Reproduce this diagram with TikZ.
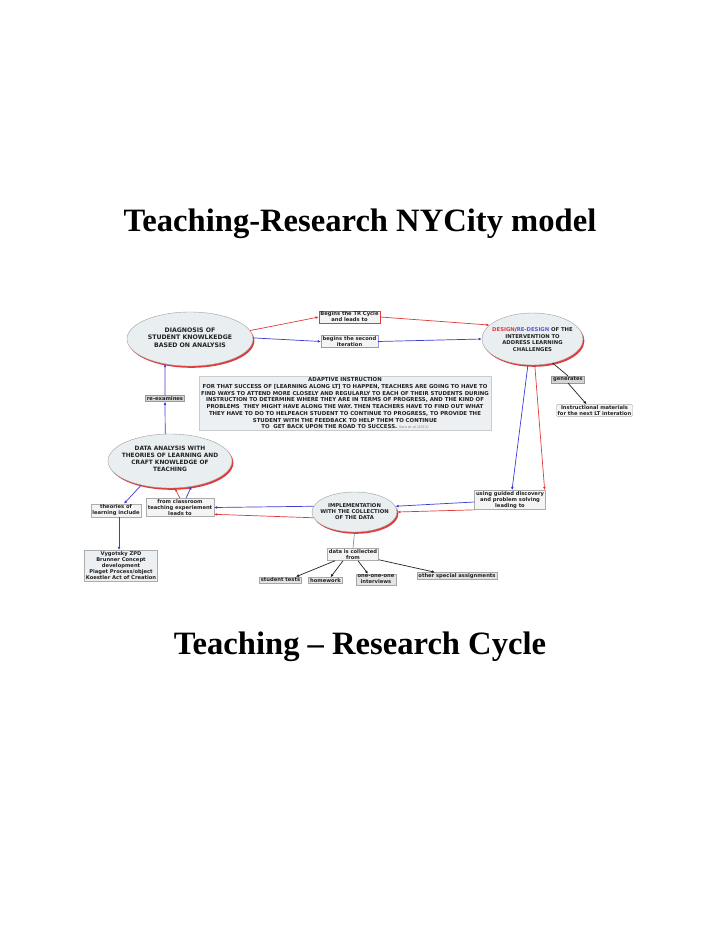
\documentclass[tikz,border=0pt]{standalone}
\usepackage{fontspec}
\setmainfont{Liberation Serif}
\setsansfont{DejaVu Sans}
\usetikzlibrary{shapes.geometric,shadows,arrows.meta,calc}
\definecolor{rl}{HTML}{E23A3A}
\definecolor{bl}{HTML}{3C3CD2}
\definecolor{cfill}{HTML}{E9EEF1}
\definecolor{bfill}{HTML}{F4F4F4}
\definecolor{gfill}{HTML}{D6D6D6}
\definecolor{lfill}{HTML}{E4E4E4}
\definecolor{afill}{HTML}{EDF0F3}
\definecolor{ink}{HTML}{222222}
\begin{document}
\begin{tikzpicture}[x=1pt,y=-1pt,
  txt/.style={font=\sffamily\bfseries\fontsize{5.2}{6.1}\selectfont, align=center, inner sep=0pt, text=ink},
  ctxt/.style={txt, font=\sffamily\bfseries\fontsize{5.3}{6.4}\selectfont},
  cshape/.style={ellipse, draw=gray!75, fill=cfill, line width=0.4pt, inner sep=0pt,
     drop shadow={fill=rl, opacity=1, shadow xshift=1.4pt, shadow yshift=-1.8pt}},
  box/.style={txt, draw=gray!65, fill=bfill, inner xsep=1.5pt, inner ysep=1pt, line width=0.4pt},
  gbox/.style={box, fill=gfill, draw=gray!80},
  lbox/.style={box, fill=lfill, draw=gray!70},
  arr/.style={-{Latex[length=3.2pt,width=2.8pt]}, line width=0.7pt, draw=ink},
  rarr/.style={arr, draw=rl},
  barr/.style={arr, draw=bl},
  ttl/.style={font=\bfseries\fontsize{32.6}{38}\selectfont, anchor=base, inner sep=0pt}
]
\fill[white] (0,0) rectangle (720,932);
\useasboundingbox (0,0) rectangle (720,932);

% titles
\node[ttl] (t1) at (360,231) {Teaching-Research NYCity model};
\node[ttl] (t2) at (360,654) {Teaching – Research Cycle};

% concepts (ellipses)
\node[cshape, minimum width=126pt, minimum height=54pt] (diag) at (190,339) {};
\node[ctxt, font=\sffamily\bfseries\fontsize{6.2}{7.4}\selectfont] (diagt) at (190,337.5) {DIAGNOSIS OF\\STUDENT KNOWLKEDGE\\BASED ON ANALYSIS};

\node[cshape, minimum width=101pt, minimum height=52pt] (design) at (532.5,339) {};
\node[ctxt] (designt) at (532.5,339.5) {\textcolor{rl}{DESIGN}/\textcolor{bl!85}{RE-DESIGN} OF THE\\INTERVENTION TO\\ADDRESS LEARNING\\CHALLENGES};

\node[cshape, minimum width=124pt, minimum height=54pt] (data) at (170,461) {};
\node[ctxt, font=\sffamily\bfseries\fontsize{5.9}{7}\selectfont] (datat) at (170,459) {DATA ANALYSIS WITH\\THEORIES OF LEARNING AND\\CRAFT KNOWLEDGE OF\\TEACHING};

\node[cshape, minimum width=85pt, minimum height=40pt] (impl) at (354.5,512) {};
\node[ctxt] (implt) at (354.5,511.5) {IMPLEMENTATION\\WITH THE COLLECTION\\OF THE DATA};

% linking phrases and boxes
\node[box, draw=rl] (tr1) at (349.5,317) {Begins the TR Cycle\\and leads to};
\node[box, draw=bl!55] (tr2) at (349.5,341.5) {begins the second\\iteration};
\node[gbox] (gen) at (568,379.5) {generates};
\node[box, rounded corners=1.5pt] (instr) at (594.5,410.5) {Instructional materials\\for the next LT interation};
\node[box, fill=afill, draw=gray!40, inner xsep=2pt, inner ysep=1.5pt,
      font=\sffamily\bfseries\fontsize{5.4}{6.7}\selectfont] (adapt) at (345,403.5)
  {ADAPTIVE INSTRUCTION\\
   FOR THAT SUCCESS OF [LEARNING ALONG LT] TO HAPPEN, TEACHERS ARE GOING TO HAVE TO\\
   FIND WAYS TO ATTEND MORE CLOSELY AND REGULARLY TO EACH OF THEIR STUDENTS DURING\\
   INSTRUCTION TO DETERMINE WHERE THEY ARE IN TERMS OF PROGRESS, AND THE KIND OF\\
   PROBLEMS\ \ THEY MIGHT HAVE ALONG THE WAY. THEN TEACHERS HAVE TO FIND OUT WHAT\\
   THEY HAVE TO DO TO HELPEACH STUDENT TO CONTINUE TO PROGRESS, TO PROVIDE THE\\
   STUDENT WITH THE FEEDBACK TO HELP THEM TO CONTINUE\\
   TO\ \ GET BACK UPON THE ROAD TO SUCCESS. {\mdseries\color{gray}\fontsize{3.5}{4}\selectfont Sara et al (2011)}};
\node[gbox] (reex) at (165,398.5) {re-examines};
\node[box] (theo) at (116,510.5) {theories of\\learning include};
\node[box] (fromc) at (180,507.5) {from classroom\\teaching experiement\\leads to};
\node[box] (guided) at (510,500) {using guided discovery\\and problem solving\\leading to};
\node[box, fill=afill] (vyg) at (121,565.5) {Vygotsky ZPD\\Brunner Concept\\development\\Piaget Process/object\\Koestler Act of Creation};
\node[box] (coll) at (353,554.5) {data is collected\\from};
\node[lbox] (st) at (280.5,580) {student tests};
\node[lbox] (hw) at (325.5,580.5) {homework};
\node[lbox] (oi) at (376,579.5) {one-one-one\\interviews};
\node[lbox] (osa) at (457,576) {other special assignments};

\coordinate (tv) at ($(theo.south)+(3,0)$);
\coordinate (vt) at (tv |- vyg.north);

% connectors
\draw[rarr] (diag.8) -- (tr1.west);
\draw[barr] (diag.1) -- (tr2.west);
\draw[rarr] (tr1.east) -- (design.162);
\draw[barr] (tr2.east) -- (design.west);
\draw[line width=0.7pt, draw=ink] (design.-50) -- (gen.north);
\draw[arr] (gen.south) -- ($(instr.north)+(-8,0)$);
\draw[barr] (design.-100) -- ($(guided.north)+(2,0)$);
\draw[rarr] (design.-85) -- ($(guided.north east)+(-1,0)$);
\draw[barr] ($(guided.west)+(0,2)$) -- (impl.8);
\draw[rarr] (guided.south west) -- (impl.east);
\draw[barr] (impl.172) -- (fromc.east);
\draw[rarr] (impl.-172) -- ($(fromc.south east)+(0,-2.5)$);
\draw[rarr] (fromc.north) -- (data.-80);
\draw[barr] ($(fromc.north)+(6,0)$) -- (data.-50);
\draw[barr] (data.-140) -- ($(theo.north)+(8,0)$);
\draw[barr] (data.100) -- (reex.south);
\draw[barr] (reex.north) -- (diag.-135);
\draw[barr] (tv) -- (vt);
\draw[line width=0.6pt, draw=gray] (impl.south) -- (coll.north);
\draw[arr] ($(coll.south)+(-18,0)$) -- ($(st.north east)+(-6,0)$);
\draw[arr] ($(coll.south)+(-10,0)$) -- ($(hw.north)+(5,0)$);
\draw[arr] ($(coll.south)+(5,0)$) -- ($(oi.north)+(-8,0)$);
\draw[arr] ($(coll.south east)+(0,-1)$) -- ($(osa.north)+(-22,0)$);
\end{tikzpicture}
\end{document}
